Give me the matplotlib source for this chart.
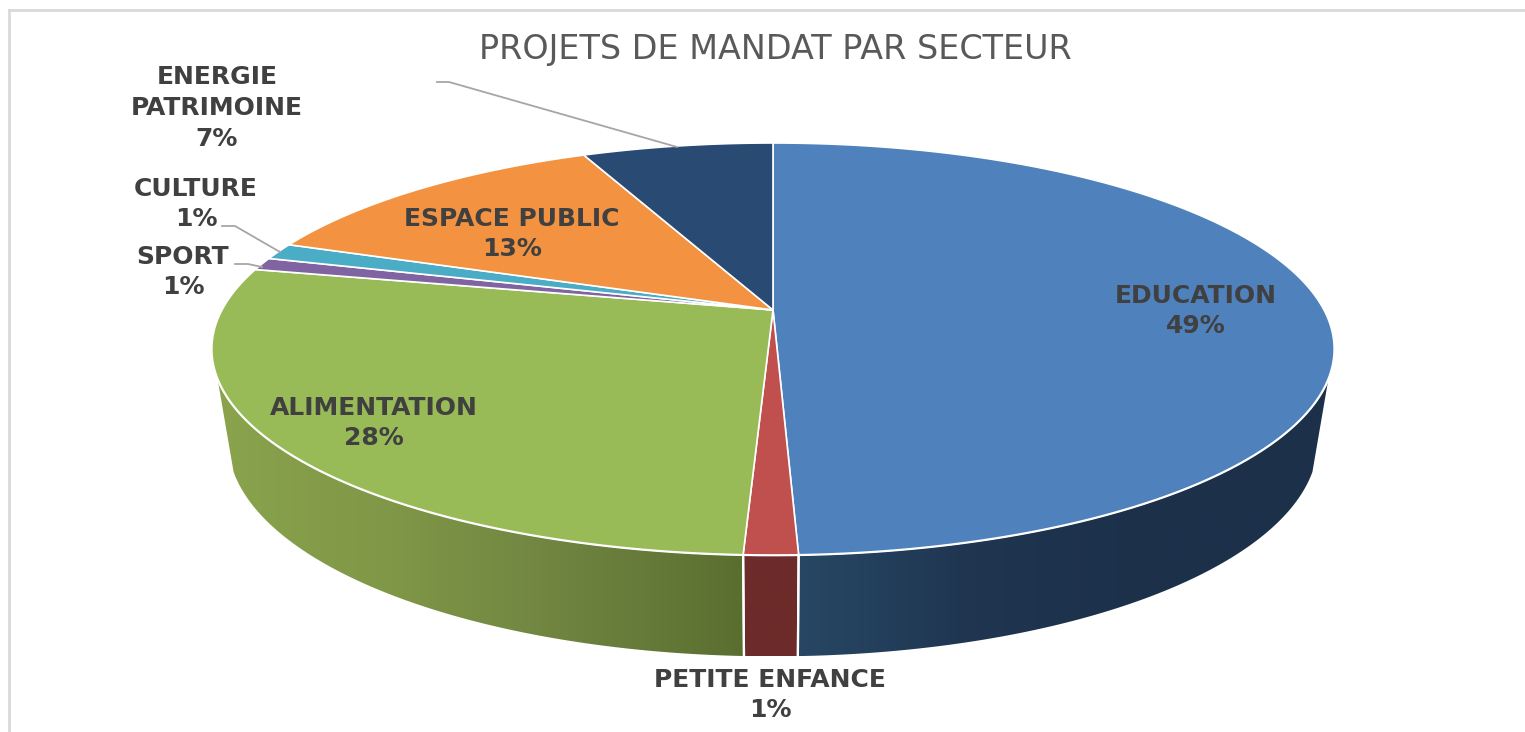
# -*- coding: utf-8 -*-
# projets de mandat par secteur - fake 3D pie
import numpy as np
import matplotlib
matplotlib.use('Agg')
import matplotlib.pyplot as plt
from matplotlib.patches import Polygon
from matplotlib.colors import LinearSegmentedColormap

# data, starting at the top and going clockwise
secteurs = ['EDUCATION', 'PETITE ENFANCE', 'ALIMENTATION', 'SPORT', 'CULTURE', 'ESPACE PUBLIC', 'ENERGIE\nPATRIMOINE']
valeurs = [49.4, 1.3, 27.7, 1.0, 1.3, 12.7, 6.6]
titre = 'PROJETS DE MANDAT PAR SECTEUR'

couleurs = ['#4f81bd', '#c0504d', '#98ba57', '#8064a2', '#4bacc6', '#f39240', '#294a72']
# gradient on the visible side of each slice, left to right
degrades = {0: ['#274764', '#1f3550', '#1c304a', '#1c304a'],
            1: ['#6d2b2a', '#6d2b2a'],
            2: ['#8aa34c', '#7f9747', '#6f8340', '#5a6e30']}

# label centres in pixels, text colour
pos_labels = [(1196, 311), (770, 695), (374, 423), (183, 272), (196, 204), (512, 234), (217, 108)]
gris = '#404040'

# leader lines
leaders = [[(437, 82), (449, 82), (677, 147)],
           [(222, 226), (235, 226), (280, 252)],
           [(235, 264), (248, 264), (262, 267)]]

# perspective of the disc: apex, half width, half height, tilt
haut = dict(x0=773, y0=310, b=551, a=198.6, k=0.1893)
bas = dict(x0=773, y0=401, b=535, a=207, k=0.1893)
# angles (from top, clockwise) where the side stops being visible
vu_min, vu_max = 108.75, 251.25


def projette(theta, p):
    t = np.radians(theta)
    u, v = np.sin(t), np.cos(t)
    d = 1 + p['k'] * v
    return np.column_stack([p['x0'] + p['b'] * u / d, p['y0'] - p['a'] * v / d])


fig = plt.figure(figsize=(15.25, 7.32), dpi=100)
ax = fig.add_axes([0, 0, 1, 1])

# pie only gives the angles, the slices are then redrawn in perspective
wedges = ax.pie(valeurs, startangle=90, counterclock=False)[0]
angles = [(90 - w.theta2, 90 - w.theta1) for w in wedges]
for w in wedges:
    w.remove()

ax.set_aspect('auto')
ax.axis('off')

# sides
for i, (t1, t2) in enumerate(angles):
    d1, d2 = max(t1, vu_min), min(t2, vu_max)
    if d1 >= d2:
        continue
    th = np.linspace(d1, d2, 200)
    pts = np.vstack([projette(th, haut), projette(th[::-1], bas)])
    poly = Polygon(pts, closed=True, fc='none', ec='none', transform=ax.transData)
    ax.add_patch(poly)
    cmap = LinearSegmentedColormap.from_list('c%d' % i, degrades[i])
    xmin, xmax = pts[:, 0].min(), pts[:, 0].max()
    im = ax.imshow(np.linspace(0, 1, 256).reshape(1, -1), cmap=cmap, aspect='auto',
                   extent=[xmin, xmax, pts[:, 1].max(), pts[:, 1].min()], zorder=1)
    im.set_clip_path(poly)
    for t in (t1, t2):
        if vu_min < t < vu_max:
            seam = np.vstack([projette(np.array([t]), haut), projette(np.array([t]), bas)])
            ax.plot(seam[:, 0], seam[:, 1], color='white', lw=1.6, zorder=2)

# white line along the front rim
th = np.linspace(vu_min, vu_max, 300)
rim = projette(th, haut)
ax.plot(rim[:, 0], rim[:, 1], color='white', lw=2, zorder=2)

# top
for i, (t1, t2) in enumerate(angles):
    th = np.linspace(t1, t2, max(int(t2 - t1) * 3, 8))
    pts = np.vstack([[haut['x0'], haut['y0']], projette(th, haut)])
    ax.add_patch(Polygon(pts, closed=True, fc=couleurs[i], ec='white', lw=1.2, zorder=3))

# leader lines
for l in leaders:
    l = np.array(l)
    ax.plot(l[:, 0], l[:, 1], color='#a6a6a6', lw=1.3, zorder=4)

# labels
for nom, val, (x, y) in zip(secteurs, valeurs, pos_labels):
    ax.text(x, y, '%s\n%.0f%%' % (nom, val), ha='center', va='center', family='DejaVu Sans',
            fontweight='bold', fontsize=18, color=gris, linespacing=1.36, zorder=5)

ax.text(775, 49, titre, ha='center', va='center', family='DejaVu Sans', fontsize=24, color='#595959')

# frame of the chart area
ax.plot([9, 9], [732, 10], color='#d9d9d9', lw=2)
ax.plot([9, 1525], [10, 10], color='#d9d9d9', lw=2)

ax.set_xlim(0, 1525)
ax.set_ylim(732, 0)
fig.savefig('out.png', dpi=100, facecolor='white')
